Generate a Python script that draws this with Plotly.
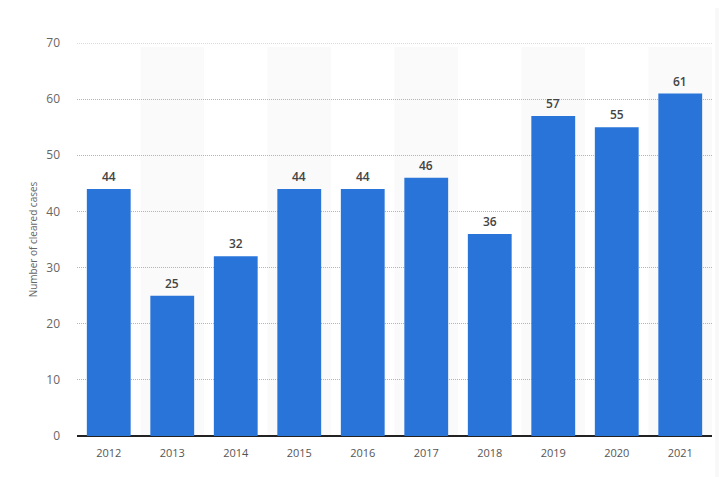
import plotly.graph_objects as go

years = ["2012", "2013", "2014", "2015", "2016", "2017", "2018", "2019", "2020", "2021"]
cleared_cases = [44, 25, 32, 44, 44, 46, 36, 57, 55, 61]
y_ticks = [0, 10, 20, 30, 40, 50, 60, 70]

fig = go.Figure()
fig.add_trace(go.Bar(
    x=years, y=cleared_cases,
    marker=dict(color="#2874d9", line=dict(width=0)),
    cliponaxis=False,
))

annotations = [dict(x=i, y=v, xref="x", yref="y", text=str(v), showarrow=False, yanchor="bottom", yshift=2,
                    font=dict(family="Open Sans", size=12, color="#444444", weight=600))
               for i, v in enumerate(cleared_cases)]

shapes = []
for i in range(len(years)):
    if i % 2 == 1:
        shapes.append(dict(type="rect", xref="x", yref="paper", x0=i - 0.5, x1=i + 0.5,
                           y0=0, y1=0.99, fillcolor="#fafafa", line=dict(width=0), layer="below"))
shapes.append(dict(type="line", xref="paper", yref="y", x0=0, x1=1, y0=y_ticks[-1], y1=y_ticks[-1],
                   line=dict(color="#b5b5b5", width=1, dash="1px,1px"), layer="below"))
shapes.append(dict(type="rect", xref="paper", yref="paper", x0=1.005, x1=1.04, y0=-0.2, y1=1.12,
                   fillcolor="#f8f8f8", line=dict(width=0), layer="below"))

fig.update_layout(
    width=727, height=477,
    margin=dict(l=69, r=23, t=35, b=49),
    paper_bgcolor="white", plot_bgcolor="white",
    font=dict(family="Open Sans", color="#666666"),
    bargap=0.31,
    showlegend=False,
    shapes=shapes,
    annotations=annotations,
    xaxis=dict(type="category", categoryarray=years, categoryorder="array", range=[-0.5, len(years) - 0.5],
               showgrid=False, ticks="", tickfont=dict(size=11, color="#555555"), showline=False,
               ticklabelstandoff=9),
    yaxis=dict(range=[0, 70], tickvals=y_ticks, showgrid=True, gridcolor="#b5b5b5", griddash="1px,1px",
               gridwidth=1, zeroline=True, zerolinecolor="#222222", zerolinewidth=1.5,
               tickfont=dict(size=12, color="#666666"), ticks="", ticklabelstandoff=16,
               title=dict(text="Number of cleared cases", font=dict(size=10, color="#666666"), standoff=6)),
)
fig.write_html("out.html")
